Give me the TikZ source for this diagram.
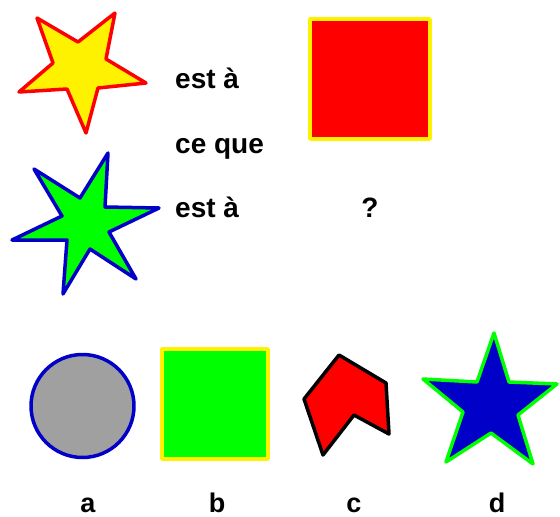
\documentclass[tikz,border=0pt]{standalone}
\usepackage{fontspec}
\setmainfont{Liberation Sans}
\definecolor{dblue}{RGB}{0,0,200}
\definecolor{lgray}{RGB}{160,160,160}
\tikzset{
  word/.style={font=\bfseries\fontsize{28}{32}\selectfont, inner sep=0pt, anchor=base west},
  letter/.style={font=\bfseries\fontsize{27}{30}\selectfont, inner sep=0pt, text depth=0pt, anchor=base},
  fig/.style={line width=3.5pt, line join=round}
}
\begin{document}
\begin{tikzpicture}[x=1pt, y=-1pt]
  \useasboundingbox (0,0) rectangle (560,517);
  % the analogy
  \draw[fig, red, fill=yellow] (37,18) -- (78,42) -- (115,13) -- (106,59) -- (146,83)
    -- (98,88) -- (86,133) -- (67,89) -- (19,92) -- (53,63) -- cycle;
  \draw[fig, dblue, fill=green] (34,169) -- (80,198) -- (108,153) -- (105,207) -- (159,208)
    -- (109,232) -- (136,279) -- (90,249) -- (63,294) -- (67,240) -- (12,240) -- (62,216) -- cycle;
  \draw[fig, yellow, fill=red] (310,19) rectangle (430,139);
  \node[word] (esta1) at (175,88) {est à};
  \node[word] (ceque) at (175,153) {ce que};
  \node[word] (esta2) at (175,217) {est à};
  \node[letter, font=\bfseries\fontsize{28}{32}\selectfont] (quest) at (370,217) {?};
  % the answers
  \draw[fig, dblue, fill=lgray] (82.5,406) circle (51.5);
  \draw[fig, yellow, fill=green] (162,349) rectangle (268,459);
  \draw[fig, black, fill=red] (339,355) -- (386,383) -- (389,434) -- (354,415)
    -- (323,455) -- (304,399) -- cycle;
  \draw[fig, green, fill=dblue] (494,333) -- (509,382) -- (557,384) -- (518,415) -- (533,464)
    -- (491,433) -- (446,462) -- (463,412) -- (423,379) -- (477,382) -- cycle;
  \node[letter] (a) at (88,512) {a};
  \node[letter] (b) at (217,512) {b};
  \node[letter] (c) at (354,512) {c};
  \node[letter] (d) at (497,512) {d};
\end{tikzpicture}
\end{document}
